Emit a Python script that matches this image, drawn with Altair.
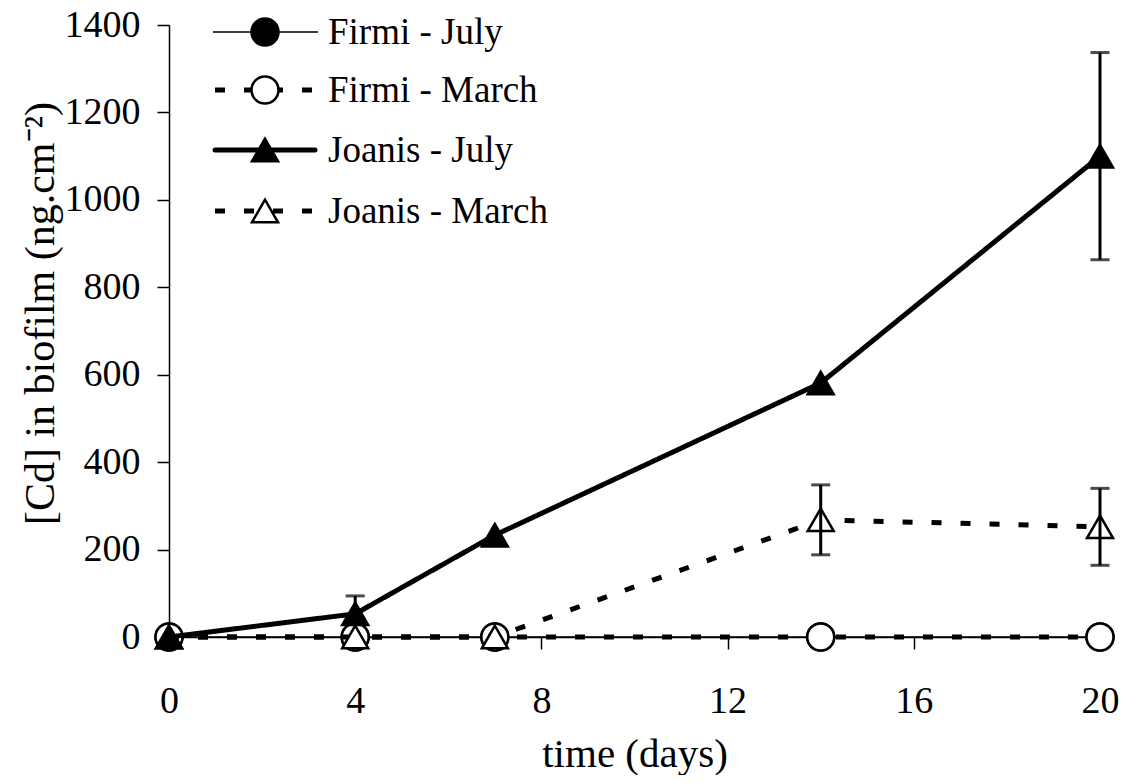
import altair as alt
import pandas as pd

# ---- data ----
days = [0, 4, 7, 14, 20]
series_names = ["Firmi - July", "Firmi - March", "Joanis - July", "Joanis - March"]
firmi_july = [0, 0, 0, 0, 0]
firmi_march = [0, 0, 0, 0, 0]
joanis_july = [0, 53, 233, 581, 1100]
joanis_july_err_plus = [0, 41, 0, 0, 237]
joanis_july_err_minus = [0, 0, 0, 0, 237]
joanis_march = [0, 0, 0, 268, 252]
joanis_march_err_plus = [0, 0, 0, 80, 88]
joanis_march_err_minus = [0, 0, 0, 80, 88]
x_ticks = [0, 4, 8, 12, 16, 20]
y_ticks = [0, 200, 400, 600, 800, 1000, 1200, 1400]

FONT = "Liberation Serif"

def series_df(name, values, plus=None, minus=None):
    plus = plus or [0] * len(values)
    minus = minus or [0] * len(values)
    return pd.DataFrame({
        "day": days,
        "value": values,
        "series": name,
        "lo": [v - m for v, m in zip(values, minus)],
        "hi": [v + p for v, p in zip(values, plus)],
    })

dfs = {
    series_names[0]: series_df(series_names[0], firmi_july),
    series_names[1]: series_df(series_names[1], firmi_march),
    series_names[2]: series_df(series_names[2], joanis_july, joanis_july_err_plus, joanis_july_err_minus),
    series_names[3]: series_df(series_names[3], joanis_march, joanis_march_err_plus, joanis_march_err_minus),
}

xscale = alt.Scale(domain=[0, 20], nice=False, zero=False)
yscale = alt.Scale(domain=[0, 1400], nice=False)

X = alt.X("day:Q", scale=xscale,
          axis=alt.Axis(values=x_ticks, title="time (days)", labelFlush=False,
                        labelBaseline="alphabetic", labelPadding=63,
                        titleY=129, titleBaseline="alphabetic",
                        titleFont=FONT, titleFontSize=41, titleFontWeight="normal"))
Y = alt.Y("value:Q", scale=yscale,
          axis=alt.Axis(values=y_ticks, format="d", title="[Cd] in biofilm (ng.cm⁻²)",
                        labelPadding=17, titleX=-116, titleY=288,
                        titleBaseline="alphabetic", titleAngle=-90,
                        titleFont=FONT, titleFontSize=42, titleFontWeight="normal"))

styles = {
    series_names[0]: dict(sw=1.5, dash=[1, 0], shape="circle", fill="black", size=729),
    series_names[1]: dict(sw=5, dash=[10, 19], shape="circle", fill="white", size=729),
    series_names[2]: dict(sw=5, dash=[1, 0], shape="triangle-up", fill="black", size=676),
    series_names[3]: dict(sw=5, dash=[10, 19], shape="triangle-up", fill="white", size=676),
}

layers = []
for name in [series_names[0], series_names[1], series_names[3], series_names[2]]:
    st = styles[name]
    base = alt.Chart(dfs[name])
    line = base.mark_line(color="black", strokeWidth=st["sw"], strokeDash=st["dash"],
                          clip=False).encode(x=X, y=Y)
    pts = base.mark_point(shape=st["shape"], filled=True, fill=st["fill"], stroke="black",
                          strokeWidth=2.5, size=st["size"], opacity=1, clip=False).encode(
        x=alt.X("day:Q", scale=xscale), y=alt.Y("value:Q", scale=yscale))
    layers += [line, pts]

# error bars on top
for name in [series_names[3], series_names[2]]:
    base = alt.Chart(dfs[name])
    rule = base.transform_filter("datum.hi > datum.lo").mark_rule(
        color="black", strokeWidth=3).encode(
        x=alt.X("day:Q", scale=xscale), y=alt.Y("lo:Q", scale=yscale), y2="hi:Q")
    cap_hi = base.transform_filter("datum.hi > datum.value").mark_tick(
        color="black", thickness=3, size=19, orient="horizontal").encode(
        x=alt.X("day:Q", scale=xscale), y=alt.Y("hi:Q", scale=yscale))
    cap_lo = base.transform_filter("datum.lo < datum.value").mark_tick(
        color="black", thickness=3, size=19, orient="horizontal").encode(
        x=alt.X("day:Q", scale=xscale), y=alt.Y("lo:Q", scale=yscale))
    layers += [rule, cap_hi, cap_lo]

# ---- manual legend (upper left, inside plot) ----
legend_rows_y = [7, 65, 125, 186]
for i, name in enumerate(series_names):
    st = styles[name]
    yy = legend_rows_y[i]
    one = pd.DataFrame({"label": [name]})
    dashed = st["dash"] != [1, 0]
    rule = alt.Chart(one).mark_rule(
        color="black", strokeWidth=st["sw"], strokeDash=st["dash"],
        strokeCap="round" if name == series_names[2] else "butt").encode(
        x=alt.value(46 if dashed or name == series_names[2] else 44),
        x2=alt.value(146 if name == series_names[2] else 149),
        y=alt.value(yy))
    mk = alt.Chart(one).mark_point(shape=st["shape"], filled=True, fill=st["fill"],
                                   stroke="black", strokeWidth=2.5, size=st["size"],
                                   opacity=1).encode(x=alt.value(96), y=alt.value(yy))
    tx = alt.Chart(one).mark_text(font=FONT, fontSize=37, align="left",
                                  baseline="alphabetic", color="black").encode(
        x=alt.value(159), y=alt.value(yy + 12), text="label:N")
    layers += [rule, mk, tx]

chart = alt.layer(*layers).properties(
    width=931, height=612,
    autosize=alt.AutoSizeParams(type="none"),
    padding={"left": 161, "top": 17, "right": 20, "bottom": 138},
    background="white",
).configure_view(stroke=None).configure_axis(
    grid=False, domainColor="black", domainWidth=1.5, tickColor="black",
    tickWidth=1.5, tickSize=12, labelFont=FONT, labelFontSize=38,
    labelColor="black", titleFont=FONT, titleFontSize=42, titleColor="black",
    titleFontWeight="normal", labelOverlap=False,
)

chart.save("out.html", embed_options={"renderer": "svg", "actions": False})
